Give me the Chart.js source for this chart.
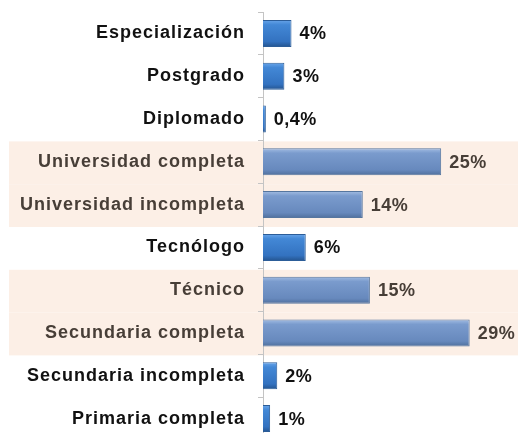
<!DOCTYPE html>
<html>
<head>
<meta charset="utf-8">
<script src="https://cdn.jsdelivr.net/npm/chart.js@4"></script>
<style>
  html, body { margin: 0; padding: 0; background: #fff; overflow: hidden; }
  #wrap { width: 518px; height: 440px; position: relative; }
</style>
</head>
<body>
<div id="wrap"><canvas id="nivelChart"></canvas></div>
<script>
// Datos del gráfico
const categorias = [
    "Especialización", "Postgrado", "Diplomado", "Universidad completa",
    "Universidad incompleta", "Tecnólogo", "Técnico", "Secundaria completa",
    "Secundaria incompleta", "Primaria completa"
];
const porcentajes = [4, 3, 0.4, 25, 14, 6, 15, 29, 2, 1];
const etiquetasValor = ["4%", "3%", "0,4%", "25%", "14%", "6%", "15%", "29%", "2%", "1%"];
const filasResaltadas = [3, 4, 6, 7];

const esResaltada = i => filasResaltadas.includes(i);
const FUENTE = '"Liberation Sans", Arial, sans-serif';

// Degradado vertical para dar efecto de relieve a cada barra
function colorBarra(ctx) {
    const chart = ctx.chart;
    const i = ctx.dataIndex;
    const base = esResaltada(i) ? '#6d90c4' : '#3b7cc9';
    if (!chart.chartArea || !chart.scales.y) return base;
    const y = chart.scales.y.getPixelForValue(i);
    const g = chart.ctx.createLinearGradient(0, y - 13.5, 0, y + 13.5);
    if (esResaltada(i)) {
        g.addColorStop(0, '#a3bde3');
        g.addColorStop(0.18, '#7a9bcd');
        g.addColorStop(0.8, '#6789bd');
        g.addColorStop(1, '#4f6f9c');
    } else {
        g.addColorStop(0, '#6aa6ea');
        g.addColorStop(0.18, '#4388d6');
        g.addColorStop(0.8, '#3372c0');
        g.addColorStop(1, '#24548f');
    }
    return g;
}

// Espaciado de letras un poco más abierto, como en el original
const espaciado = {
    id: 'espaciado',
    beforeLayout(chart) { chart.ctx.letterSpacing = '1px'; },
    beforeDraw(chart) { chart.ctx.letterSpacing = '1px'; }
};

// Franjas color durazno detrás de algunas filas
const fondoFilas = {
    id: 'fondoFilas',
    beforeDraw(chart) {
        const { ctx, scales: { y } } = chart;
        const alto = y.height / categorias.length;
        ctx.save();
        ctx.fillStyle = '#fcefe6';
        filasResaltadas.forEach(i => {
            const cy = y.getPixelForValue(i);
            ctx.fillRect(9, cy - alto / 2 + 1, chart.width - 9, alto);
        });
        ctx.restore();
    }
};

// Etiquetas de porcentaje al final de cada barra
const etiquetasBarras = {
    id: 'etiquetasBarras',
    afterDatasetsDraw(chart) {
        const { ctx } = chart;
        const meta = chart.getDatasetMeta(0);
        ctx.save();
        ctx.font = 'bold 18px ' + FUENTE;
        ctx.letterSpacing = '0.5px';
        ctx.textBaseline = 'middle';
        ctx.textAlign = 'left';
        meta.data.forEach((bar, i) => {
            ctx.fillStyle = esResaltada(i) ? '#473e37' : '#111111';
            ctx.fillText(etiquetasValor[i], bar.x + 8, bar.y + 1);
        });
        ctx.restore();
    }
};

new Chart(document.getElementById('nivelChart'), {
    type: 'bar',
    data: {
        labels: categorias,
        datasets: [{
            data: porcentajes,
            backgroundColor: colorBarra,
            borderColor: ctx => esResaltada(ctx.dataIndex) ? '#56769f' : '#2c5d98',
            borderWidth: 1,
            borderSkipped: 'left',
            categoryPercentage: 0.63,
            barPercentage: 1
        }]
    },
    options: {
        indexAxis: 'y',
        responsive: true,
        maintainAspectRatio: false,
        animation: false,
        layout: { padding: { top: 12, bottom: 0, left: 0, right: 2 } },
        plugins: { legend: { display: false }, tooltip: { enabled: false } },
        scales: {
            x: { display: false, min: 0, max: 35.5 },
            y: {
                afterFit(scale) {
                    scale.width = 263;
                    scale.paddingTop = 0;
                    scale.paddingBottom = 0;
                },
                border: { color: '#c4c4c4', width: 1 },
                grid: { drawOnChartArea: false, tickLength: 5, color: '#c4c4c4' },
                ticks: {
                    padding: 13,
                    autoSkip: false,
                    color: ctx => esResaltada(ctx.index) ? '#473e37' : '#111111',
                    font: { family: FUENTE, size: 18, weight: 'bold' }
                }
            }
        }
    },
    plugins: [espaciado, fondoFilas, etiquetasBarras]
});
</script>
</body>
</html>
